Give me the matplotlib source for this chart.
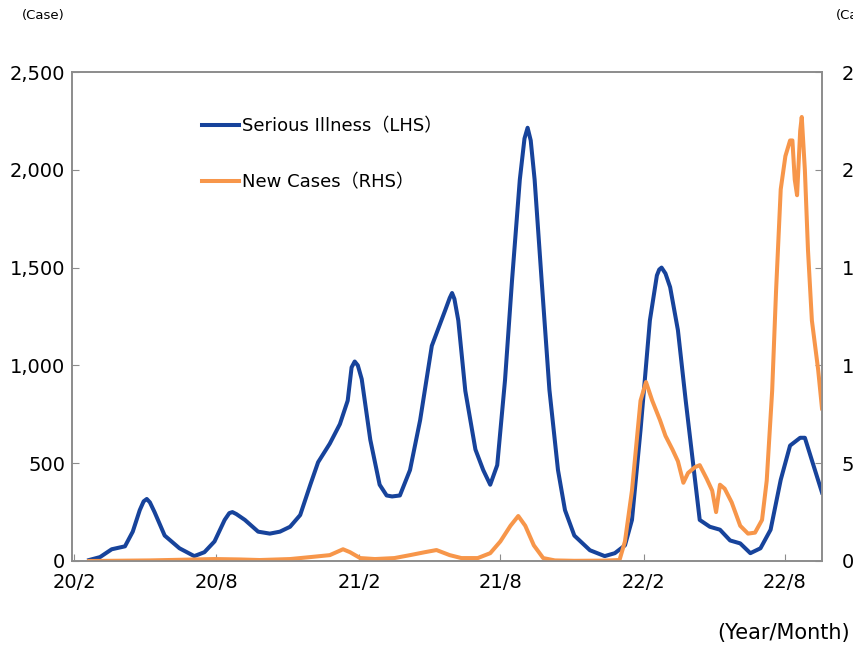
import numpy as np
import pandas as pd
import matplotlib
matplotlib.use('Agg')
import matplotlib.pyplot as plt

# serious illness (left axis)
ill_dates = ['2020-02-20', '2020-03-05', '2020-03-20', '2020-04-06', '2020-04-16', '2020-04-25',
             '2020-04-30', '2020-05-04', '2020-05-08', '2020-05-14', '2020-05-27', '2020-06-15',
             '2020-07-04', '2020-07-17', '2020-07-30', '2020-08-12', '2020-08-18', '2020-08-22',
             '2020-08-27', '2020-09-07', '2020-09-24', '2020-10-09', '2020-10-22', '2020-11-04',
             '2020-11-17', '2020-11-30', '2020-12-10', '2020-12-25', '2021-01-07', '2021-01-17',
             '2021-01-22', '2021-01-26', '2021-01-30', '2021-02-04', '2021-02-15', '2021-02-27',
             '2021-03-08', '2021-03-15', '2021-03-25', '2021-04-07', '2021-04-20', '2021-05-05',
             '2021-05-22', '2021-05-28', '2021-05-31', '2021-06-03', '2021-06-08', '2021-06-17',
             '2021-06-30', '2021-07-10', '2021-07-19', '2021-07-28', '2021-08-07', '2021-08-16',
             '2021-08-26', '2021-09-01', '2021-09-05', '2021-09-09', '2021-09-14', '2021-09-23',
             '2021-10-03', '2021-10-14', '2021-10-23', '2021-11-04', '2021-11-24', '2021-12-13',
             '2021-12-26', '2022-01-08', '2022-01-17', '2022-01-28', '2022-02-09', '2022-02-18',
             '2022-02-21', '2022-02-24', '2022-03-01', '2022-03-07', '2022-03-17', '2022-03-27',
             '2022-04-05', '2022-04-14', '2022-04-27', '2022-05-10', '2022-05-23', '2022-06-05',
             '2022-06-18', '2022-07-01', '2022-07-14', '2022-07-27', '2022-08-08', '2022-08-21',
             '2022-08-27', '2022-09-05', '2022-09-18']
ill_vals = [5, 20, 60, 75, 150, 260,
            305, 317, 300, 250, 130, 65,
            25, 45, 100, 210, 245, 250,
            240, 210, 150, 140, 150, 175,
            235, 390, 505, 600, 700, 820,
            990, 1020, 1000, 930, 620, 390,
            335, 330, 335, 465, 720, 1100,
            1280, 1345, 1370, 1340, 1230, 870,
            570, 465, 390, 490, 925, 1435,
            1950, 2160, 2215, 2150, 1950, 1435,
            875, 465, 260, 130, 55, 25,
            40, 80, 210, 670, 1230, 1460,
            1490, 1500, 1470, 1400, 1180, 820,
            515, 210, 175, 160, 105, 90,
            40, 65, 160, 415, 590, 630,
            630, 515, 350]

# new cases (right axis)
new_dates = ['2020-02-20', '2020-05-08', '2020-07-30', '2020-08-31', '2020-09-26', '2020-11-04',
             '2020-11-30', '2020-12-25', '2021-01-11', '2021-01-20', '2021-02-02', '2021-02-21',
             '2021-03-18', '2021-04-07', '2021-04-26', '2021-05-11', '2021-05-28', '2021-06-12',
             '2021-07-03', '2021-07-19', '2021-08-01', '2021-08-14', '2021-08-24', '2021-09-02',
             '2021-09-13', '2021-09-25', '2021-10-10', '2021-11-04', '2021-12-13', '2022-01-01',
             '2022-01-08', '2022-01-17', '2022-01-28', '2022-02-04', '2022-02-12', '2022-02-22',
             '2022-03-01', '2022-03-10', '2022-03-17', '2022-03-24', '2022-03-30', '2022-04-08',
             '2022-04-14', '2022-04-23', '2022-04-30', '2022-05-05', '2022-05-10', '2022-05-16',
             '2022-05-25', '2022-06-05', '2022-06-15', '2022-06-24', '2022-07-03', '2022-07-09',
             '2022-07-16', '2022-07-21', '2022-07-27', '2022-08-02', '2022-08-08', '2022-08-11',
             '2022-08-14', '2022-08-17', '2022-08-21', '2022-08-23', '2022-08-27', '2022-08-31',
             '2022-09-05', '2022-09-13', '2022-09-18']
new_vals = [0, 300, 1000, 800, 500, 1000,
            2000, 3000, 6000, 4500, 1500, 1000,
            1500, 3000, 4500, 5600, 3000, 1500,
            1500, 4000, 10000, 18000, 23000, 18000,
            8000, 1500, 300, 100, 200, 500,
            10000, 36000, 82000, 91500, 82000, 72000,
            64000, 57000, 51000, 40000, 45000, 48000,
            49000, 42000, 36000, 25000, 39000, 37000,
            30000, 18000, 14000, 14500, 21000, 41000,
            87000, 138000, 190000, 207000, 215000, 215000,
            195000, 187000, 220000, 227000, 200000, 159000,
            123000, 98000, 78000]

x_ticks = ['2020-02-01', '2020-08-01', '2021-02-01', '2021-08-01', '2022-02-01', '2022-08-01']
x_labels = ['20/2', '20/8', '21/2', '21/8', '22/2', '22/8']

blue = '#17439B'
orange = '#F7964A'
gray = '#8C8C8C'

fig = plt.figure(figsize=(8.54, 6.45), dpi=100)
ax1 = fig.add_axes([72 / 854, 1 - 561 / 645, 750 / 854, 489 / 645])
ax2 = ax1.twinx()

ax1.plot(pd.to_datetime(ill_dates), ill_vals, color=blue, lw=2.9,
         solid_joinstyle='round', label='Serious Illness（LHS）')
ax2.plot(pd.to_datetime(new_dates), new_vals, color=orange, lw=2.9,
         solid_joinstyle='round', label='New Cases（RHS）')

ax1.set_xlim(pd.Timestamp('2020-01-29'), pd.Timestamp('2022-09-18'))
ax1.set_ylim(0, 2500)
ax2.set_ylim(0, 250000)
ax1.set_yticks(np.arange(0, 2501, 500))
ax2.set_yticks(np.arange(0, 250001, 50000))
ax1.yaxis.set_major_formatter(matplotlib.ticker.StrMethodFormatter('{x:,.0f}'))
ax2.yaxis.set_major_formatter(matplotlib.ticker.StrMethodFormatter('{x:,.0f}'))
ax1.set_xticks(pd.to_datetime(x_ticks))
ax1.set_xticklabels(x_labels)

for ax in (ax1, ax2):
    for s in ax.spines.values():
        s.set_color(gray)
        s.set_linewidth(1.2)
ax1.tick_params(axis='both', direction='in', length=5, color=gray, labelsize=14)
ax1.tick_params(axis='x', pad=9)
ax1.tick_params(axis='y', pad=5)
ax2.tick_params(axis='y', direction='in', length=5, color=gray, labelsize=14, pad=14)

fig.text(43 / 854, 1 - 15 / 645, '(Case)', fontsize=9.5, ha='center', va='center')
fig.text(836 / 854, 1 - 15 / 645, '(Case)', fontsize=9.5, ha='left', va='center')
fig.text(850 / 854, 1 - 633 / 645, '(Year/Month)', fontsize=15, ha='right', va='center')

h1, l1 = ax1.get_legend_handles_labels()
h2, l2 = ax2.get_legend_handles_labels()
ax2.legend(h1 + h2, l1 + l2, loc='upper left', bbox_to_anchor=(202 / 854, 1 - 117 / 645),
           bbox_transform=fig.transFigure, frameon=False,
           prop={'family': ['DejaVu Sans', 'Noto Sans CJK JP'], 'size': 13},
           handlelength=2.05, handletextpad=0.15, labelspacing=2.1,
           borderpad=0, borderaxespad=0)

fig.savefig('out.png', dpi=100)
